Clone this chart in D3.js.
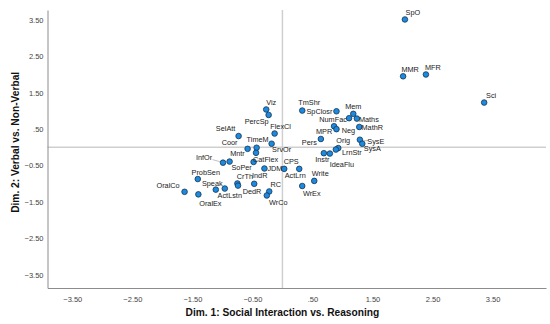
<!DOCTYPE html>
<html>
<head>
<meta charset="utf-8">
<script src="https://cdn.jsdelivr.net/npm/d3@7"></script>
<style>
  body { margin: 0; background: #fff; }
  svg { display: block; font-family: "Liberation Sans", Arial, sans-serif; }
</style>
</head>
<body>
<svg id="chart" width="550" height="324"></svg>
<script>
// abilities placed on the two MDS dimensions
const names = ["SpO", "MMR", "MFR", "Sci", "Viz", "PercSp", "TmShr", "SpClosr", "Mem", "NumFac",
  "Maths", "MathR", "MPR", "Neg", "Pers", "SysE", "SysA", "Orig", "LrnStr", "Instr",
  "IdeaFlu", "SelAtt", "FlexCl", "Coor", "TimeM", "Mntr", "SrvOr", "InfOr", "SoPer", "CatFlex",
  "JDM", "ActLrn", "CPS", "Write", "WrEx", "CrTh", "DedR", "IndR", "RC", "WrCo",
  "ProbSen", "Speak", "ActLstn", "OralCo", "OralEx"];
const dim1 = [2.04, 2.01, 2.39, 3.36, -0.27, -0.23, 0.33, 0.90, 1.18, 1.11,
  1.24, 1.28, 0.86, 0.90, 0.64, 1.29, 1.33, 0.93, 0.89, 0.69,
  0.79, -0.73, -0.13, -0.58, -0.43, -0.44, -0.18, -0.99, -0.88, -0.48,
  -0.30, 0.03, 0.28, 0.53, 0.33, -0.75, -0.74, -0.47, -0.22, -0.26,
  -1.41, -1.11, -0.96, -1.63, -1.40];
const dim2 = [3.51, 1.95, 2.00, 1.23, 1.04, 0.89, 1.01, 0.99, 0.92, 0.80,
  0.79, 0.56, 0.58, 0.50, 0.23, 0.21, 0.10, -0.02, -0.06, -0.16,
  -0.17, 0.31, 0.38, -0.04, -0.01, -0.15, 0.10, -0.42, -0.39, -0.40,
  -0.58, -0.59, -0.59, -0.92, -1.06, -0.99, -1.05, -1.00, -1.21, -1.32,
  -0.87, -1.16, -1.13, -1.22, -1.29];
const tickValues = [-3.5, -2.5, -1.5, -0.5, 0.5, 1.5, 2.5, 3.5];

// label placement (centre of label relative to its point, px)
const labelOffset = {
  SpO: [8, -7], MMR: [7, -7], MFR: [7, -7], Sci: [7, -7], Viz: [5, -7.5], PercSp: [-12, 6.5],
  TmShr: [7, -8], SpClosr: [-17, 0], Mem: [0, -7], NumFac: [-16, 1.5], Maths: [12, 0.5],
  MathR: [13, 0], MPR: [-10, 5], Neg: [12, 1], Pers: [-11.5, 3.5], SysE: [16, 1.5],
  SysA: [10, 5], Orig: [5, -7.5], LrnStr: [16, 3], Instr: [-1.5, 6], IdeaFlu: [12, 11],
  SelAtt: [-13, -7.5], FlexCl: [6, -7], Coor: [-18, -6.5], TimeM: [1, -8], Mntr: [-18.5, 1],
  SrvOr: [10, 5.5], InfOr: [-19, -5.5], SoPer: [12, 5.5], CatFlex: [12, -2.5], JDM: [10.5, 0],
  ActLrn: [11, 6.5], CPS: [-8, -7], Write: [6, -7], WrEx: [9.5, 7.5], CrTh: [7.5, -7],
  DedR: [14, 5.5], IndR: [5.5, -8], RC: [6.5, -7], WrCo: [11.5, 7], ProbSen: [8, -7],
  Speak: [-3.5, -6.5], ActLstn: [5, 7], OralCo: [-16.5, -6.5], OralEx: [12, 9]
};

const data = names.map((n, i) => ({ name: n, x: dim1[i], y: dim2[i] }));

const svg = d3.select("#chart");
const width = +svg.attr("width");
const height = +svg.attr("height");
const margin = { top: 10, right: 4, bottom: 36, left: 47.5 };

const x = d3.scaleLinear()
  .domain([-3.913, 4.39])
  .range([margin.left, width - margin.right]);

const y = d3.scaleLinear()
  .domain([-3.86, 3.77])
  .range([height - margin.bottom, margin.top]);

function fmt(v) {
  return d3.format(".2f")(v).replace(/^(-?)0\./, "$1.");
}

// reference lines at zero
svg.append("line")
  .attr("x1", x(0)).attr("x2", x(0))
  .attr("y1", margin.top).attr("y2", height - margin.bottom)
  .attr("stroke", "#cfcfcf").attr("stroke-width", 1.5);

svg.append("line")
  .attr("x1", margin.left).attr("x2", width - margin.right)
  .attr("y1", y(0)).attr("y2", y(0))
  .attr("stroke", "#cfcfcf").attr("stroke-width", 1.5);

// axes
const xAxis = svg.append("g")
  .attr("transform", `translate(0,${height - margin.bottom})`)
  .call(d3.axisBottom(x).tickValues(tickValues).tickFormat(fmt).tickSize(0).tickPadding(9));

const yAxis = svg.append("g")
  .attr("transform", `translate(${margin.left},0)`)
  .call(d3.axisLeft(y).tickValues(tickValues).tickFormat(fmt).tickSize(0).tickPadding(4));

[xAxis, yAxis].forEach(a => {
  a.select(".domain").attr("stroke", "#8c8c8c").attr("stroke-width", 1);
  a.selectAll("text")
    .attr("fill", "#444")
    .style("font-size", "7.5px")
    .style("font-family", "\"Liberation Sans\", Arial, sans-serif");
});

// leader lines for a couple of labels
["InfOr", "SysE"].forEach(n => {
  const d = data.find(p => p.name === n);
  const o = labelOffset[n];
  svg.append("line")
    .attr("x1", x(d.x) + o[0] * 0.55).attr("y1", y(d.y) + o[1] * 0.55)
    .attr("x2", x(d.x) + Math.sign(o[0]) * 3).attr("y2", y(d.y) + Math.sign(o[1]) * 1)
    .attr("stroke", "#999").attr("stroke-width", 0.6);
});

// points
svg.selectAll(".pt")
  .data(data)
  .enter()
  .append("circle")
  .attr("class", "pt")
  .attr("cx", d => x(d.x))
  .attr("cy", d => y(d.y))
  .attr("r", 2.8)
  .attr("fill", "#1d8ae0")
  .attr("stroke", "#14334f")
  .attr("stroke-width", 0.8);

// point labels
svg.selectAll(".pt-label")
  .data(data)
  .enter()
  .append("text")
  .attr("class", "pt-label")
  .attr("x", d => x(d.x) + labelOffset[d.name][0])
  .attr("y", d => y(d.y) + labelOffset[d.name][1])
  .attr("dy", "0.35em")
  .attr("text-anchor", "middle")
  .attr("fill", "#222")
  .style("font-size", "7.3px")
  .text(d => d.name);

// axis titles
svg.append("text")
  .attr("x", x(0))
  .attr("y", 316)
  .attr("text-anchor", "middle")
  .style("font-size", "10.2px")
  .style("font-weight", "bold")
  .attr("fill", "#111")
  .text("Dim. 1: Social Interaction vs. Reasoning");

svg.append("text")
  .attr("transform", `translate(19,${y(0) - 5}) rotate(-90)`)
  .attr("text-anchor", "middle")
  .style("font-size", "10.2px")
  .style("font-weight", "bold")
  .attr("fill", "#111")
  .text("Dim. 2: Verbal vs. Non-Verbal");
</script>
</body>
</html>
